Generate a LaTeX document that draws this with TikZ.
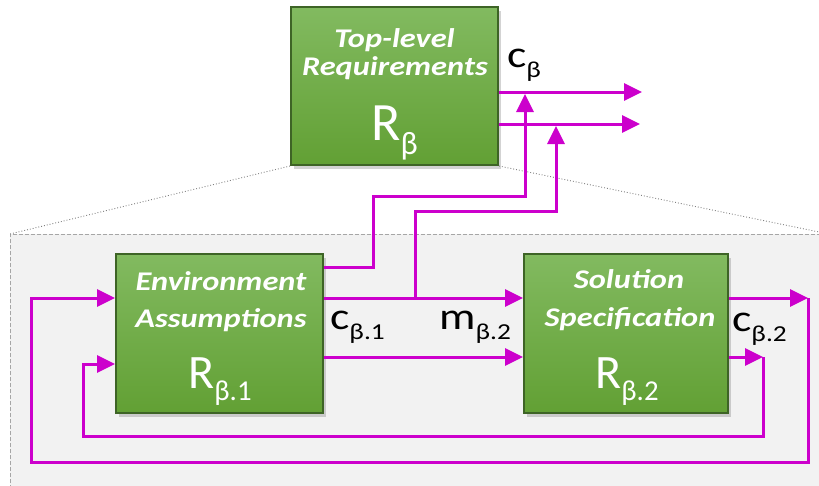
\documentclass[tikz,border=0pt]{standalone}
\usepackage{fontspec}
\setmainfont{Carlito}
\usetikzlibrary{arrows.meta,shadows,calc}
\definecolor{mag}{RGB}{204,0,204}
\definecolor{gtop}{RGB}{130,186,96}
\definecolor{gbot}{RGB}{98,160,52}
\definecolor{gedge}{RGB}{62,100,38}
\definecolor{panel}{RGB}{242,242,242}
\newcommand{\subx}[2]{#1\raisebox{-0.27em}{\scalebox{0.6}{#2}}}
\newcommand{\wide}[1]{\scalebox{1.2}[1]{#1}}
\begin{document}
\begin{tikzpicture}[x=1pt,y=-1pt,
  box/.style={draw=gedge, line width=2pt, top color=gtop, bottom color=gbot,
    drop shadow={opacity=0.35, shadow xshift=3pt, shadow yshift=-4pt},
    inner sep=0pt, rectangle},
  wire/.style={draw=mag, line width=3pt},
  arr/.style={wire, -{Triangle[length=18pt,width=17pt]}},
  ttl/.style={text=white, font=\fontsize{27}{32}\selectfont\bfseries\itshape, anchor=base, inner sep=0pt},
  big/.style={text=white, font=\fontsize{48}{56}\selectfont, anchor=base, inner sep=0pt},
  lbl/.style={font=\fontsize{38}{42}\selectfont, anchor=base west, inner sep=0pt}]
\useasboundingbox (0,0) rectangle (819,485);
% panel
\fill[panel] (10,234) rectangle (825,495);
\draw[gray!70, dash pattern=on 4pt off 2pt, line width=0.8pt] (10,495) -- (10,234) -- (825,234);
% boxes
\node[box, minimum width=207pt, minimum height=158pt] (top) at (394.5,86) {};
\draw[gray, dotted, line width=0.9pt] (top.south west) -- (10,234);
\draw[gray, dotted, line width=0.9pt] (top.south east) -- (819,232);
\node[box, minimum width=207pt, minimum height=159pt] (env) at (219.5,333.5) {};
\node[box, minimum width=204pt, minimum height=159pt] (sol) at (626,333.5) {};
% box texts
\node[ttl] (tt1) at (394.5,47) {\wide{Top-level}};
\node[ttl] (tt2) at (395,75) {\wide{Requirements}};
\node[big, font=\fontsize{54}{60}\selectfont] (tt3) at (394.5,140) {\subx{R}{β}};
\node[ttl] (et1) at (221,290) {\wide{Environment}};
\node[ttl] (et2) at (221,327) {\wide{Assumptions}};
\node[big] (et3) at (220,388) {\subx{R}{β.1}};
\node[ttl] (st1) at (629,288) {\wide{Solution}};
\node[ttl] (st2) at (630,326) {\wide{Specification}};
\node[big] (st3) at (627,388) {\subx{R}{β.2}};
% coordinates
\coordinate (t1) at (642,92);
\coordinate (t2) at (640,124);
\coordinate (u1) at (525,94);
\coordinate (u2) at (556,126);
\coordinate (br) at (415,298);
\coordinate (f1) at (808,298);
\coordinate (f2) at (763,357);
% top outputs
\draw[arr] (top.east |- t1) -- (t1);
\draw[arr] (top.east |- t2) -- (t2);
% env to top
\draw[arr] ($(env.north east)+(0,14)$) -| (373,196) -| (u1);
\draw[arr] (env.east |- br) -- (sol.west |- br);
\draw[arr] (br) |- (556,211) -- (u2);
\draw[arr] (env.east |- f2) -- (sol.west |- f2);
% solution outputs and feedback
\draw[arr] (sol.east |- f1) -- (f1);
\draw[arr] (f1) -- (808,462) -- (31,462) -- (31,298) -- (env.west |- f1);
\draw[arr] (sol.east |- f2) -- (f2);
\draw[arr] (f2) -- (763,436) -- (83,436) -- (83,364) -- (env.west |- 0,364);
% labels
\node[lbl] (lc) at (507,67) {\wide{\subx{c}{β}}};
\node[lbl] (lc1) at (330,329) {\wide{\subx{c}{β.1}}};
\node[lbl] (lm2) at (439,329) {\wide{\subx{m}{β.2}}};
\node[lbl] (lc2) at (732,331) {\wide{\subx{c}{β.2}}};
\end{tikzpicture}
\end{document}
